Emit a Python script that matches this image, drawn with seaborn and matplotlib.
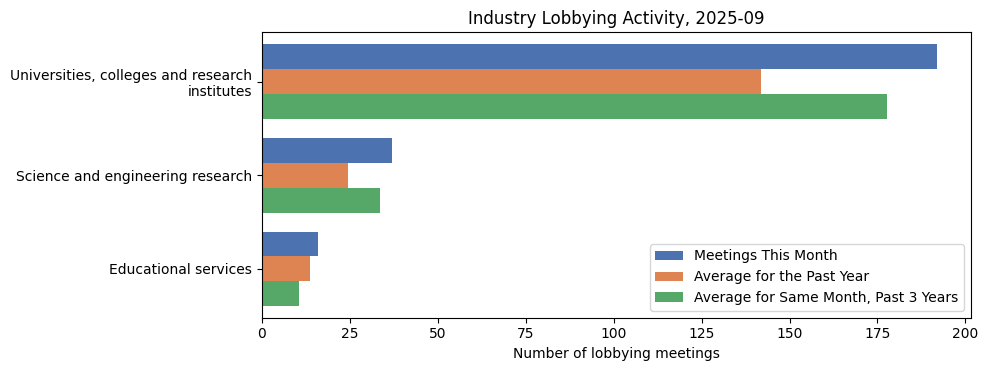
import textwrap
import matplotlib
matplotlib.use("Agg")
import matplotlib.pyplot as plt
import seaborn as sns
import pandas as pd

categories = ["Universities, colleges and research institutes",
              "Science and engineering research",
              "Educational services"]
series_names = ["Meetings This Month", "Average for the Past Year",
                "Average for Same Month, Past 3 Years"]
this_month = [192, 37, 16]
past_year = [142, 24.4, 13.8]
same_month_3y = [177.8, 33.5, 10.4]

rows = []
for cat, a, b, c in zip(categories, this_month, past_year, same_month_3y):
    wrapped = textwrap.fill(cat, 35)
    rows.append((wrapped, series_names[0], a))
    rows.append((wrapped, series_names[1], b))
    rows.append((wrapped, series_names[2], c))
df = pd.DataFrame(rows, columns=["Industry", "Series", "Value"])

fig, ax = plt.subplots(figsize=(9.9, 3.71), dpi=100)
sns.barplot(data=df, y="Industry", x="Value", hue="Series", palette="deep",
            orient="h", ax=ax, saturation=1)
ax.set_title("Industry Lobbying Activity, 2025-09")
ax.set_xlabel("Number of lobbying meetings")
ax.set_ylabel("")
ax.set_ylim(2.52, -0.525)
ax.legend(loc="lower right", title=None)
fig.subplots_adjust(left=0.2646, right=0.9808, top=0.9124, bottom=0.1437)
fig.savefig("out.png", dpi=100)
